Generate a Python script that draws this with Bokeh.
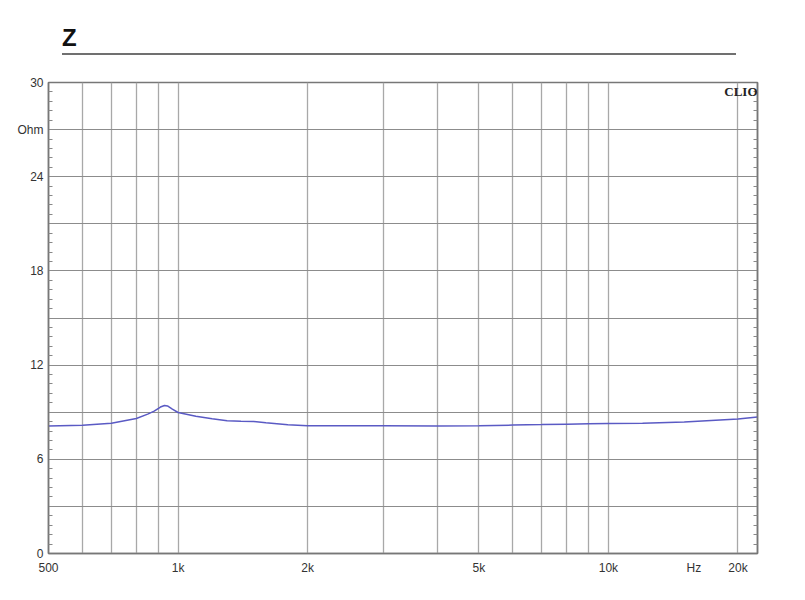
from bokeh.plotting import figure
from bokeh.models import Range1d, FixedTicker, LinearAxis, Label, Div
from bokeh.layouts import column
from bokeh.embed import file_html
from bokeh.resources import INLINE

# Data (impedance curve)
freq = [500, 600, 700, 800, 850, 880, 910, 930, 945, 970, 1000, 1100, 1200, 1300, 1400,
        1500, 1600, 1800, 2000, 3000, 4000, 5000, 6000, 7000, 8000, 9000, 10000, 12000,
        15000, 20000, 22200]
z = [8.12, 8.17, 8.3, 8.6, 8.88, 9.07, 9.33, 9.43, 9.4, 9.2, 8.98, 8.74, 8.58, 8.46, 8.42,
     8.41, 8.33, 8.2, 8.13, 8.14, 8.12, 8.14, 8.18, 8.21, 8.24, 8.26, 8.28, 8.3,
     8.38, 8.56, 8.7]

x_tick_values = [500, 1000, 2000, 5000, 10000, 15800, 20000]
x_tick_labels = ["500", "1k", "2k", "5k", "10k", "Hz", "20k"]
x_grid_values = [600, 700, 800, 900, 1000, 2000, 3000, 4000, 5000, 6000, 7000, 8000,
                 9000, 10000, 20000]
y_tick_values = [0, 6, 12, 18, 24, 27, 30]
y_tick_labels = ["0", "6", "12", "18", "24", "Ohm", "30"]
y_grid_values = [0, 3, 6, 9, 12, 15, 18, 21, 24, 27, 30]
y_minor_values = [round(i * 0.6, 1) for i in range(51) if i % 5 != 0]

title_text = "Z"
brand_text = "CLIO"

FONT = "Liberation Sans"

div = Div(
    text=(f'<div style="margin:0 0 0 62px;padding-top:23px;width:674px;'
          f'font-family:\'{FONT}\',Arial,sans-serif;font-weight:bold;font-size:24px;'
          f'line-height:30px;color:#111;border-bottom:2px solid #707070;">{title_text}</div>'),
    width=788, height=74, margin=0)

p = figure(width=788, height=518, x_axis_type="log",
           x_range=Range1d(500, 22200), y_range=Range1d(0, 30),
           output_backend="svg", toolbar_location=None,
           min_border_left=48, min_border_right=31, min_border_top=8, min_border_bottom=39)
p.background_fill_color = "white"
p.border_fill_color = "white"
p.outline_line_color = "#777777"
p.outline_line_width = 1.5

# Grid
p.xgrid.ticker = FixedTicker(ticks=x_grid_values)
p.xgrid.grid_line_color = "#a8a8a8"
p.xgrid.grid_line_width = 1.3
p.ygrid.ticker = FixedTicker(ticks=y_grid_values)
p.ygrid.grid_line_color = "#8c8c8c"
p.ygrid.grid_line_width = 1

# X axis
xa = p.xaxis[0]
xa.ticker = FixedTicker(ticks=x_tick_values, minor_ticks=[])
xa.major_label_overrides = {v: l for v, l in zip(x_tick_values, x_tick_labels)}
xa.major_tick_in = 0
xa.major_tick_out = 0
xa.minor_tick_line_color = None
xa.axis_line_color = "#777777"
xa.axis_line_width = 1.5
xa.major_label_standoff = 7
xa.major_label_text_font = FONT
xa.major_label_text_font_size = "12px"
xa.major_label_text_color = "#333333"

# Y axis
ya = p.yaxis[0]
ya.ticker = FixedTicker(ticks=y_tick_values, minor_ticks=y_minor_values)
ya.major_label_overrides = {v: l for v, l in zip(y_tick_values, y_tick_labels)}
ya.major_tick_in = 0
ya.major_tick_out = 0
ya.minor_tick_in = 4
ya.minor_tick_out = 0
ya.minor_tick_line_color = "#888888"
ya.axis_line_color = "#777777"
ya.axis_line_width = 1.5
ya.major_label_standoff = 5
ya.major_label_text_font = FONT
ya.major_label_text_font_size = "12px"
ya.major_label_text_color = "#333333"

# Right axis with minor ticks only (no labels)
ra = LinearAxis(ticker=FixedTicker(ticks=[], minor_ticks=y_minor_values))
ra.major_tick_in = 0
ra.major_tick_out = 0
ra.minor_tick_in = 4
ra.minor_tick_out = 0
ra.minor_tick_line_color = "#888888"
ra.axis_line_color = "#777777"
ra.axis_line_width = 1.5
ra.major_label_standoff = 0
p.add_layout(ra, "right")

# Curve
p.line(freq, z, line_color="#5a5ac4", line_width=1.5)

# Brand label
p.add_layout(Label(x=22200, y=30, text=brand_text, text_align="right", text_baseline="top",
                   x_offset=0, y_offset=-1, text_font="Liberation Serif",
                   text_font_style="bold", text_font_size="13px", text_color="#222222"))

layout = column(div, p)
open("out.html", "w").write(file_html(layout, INLINE))
